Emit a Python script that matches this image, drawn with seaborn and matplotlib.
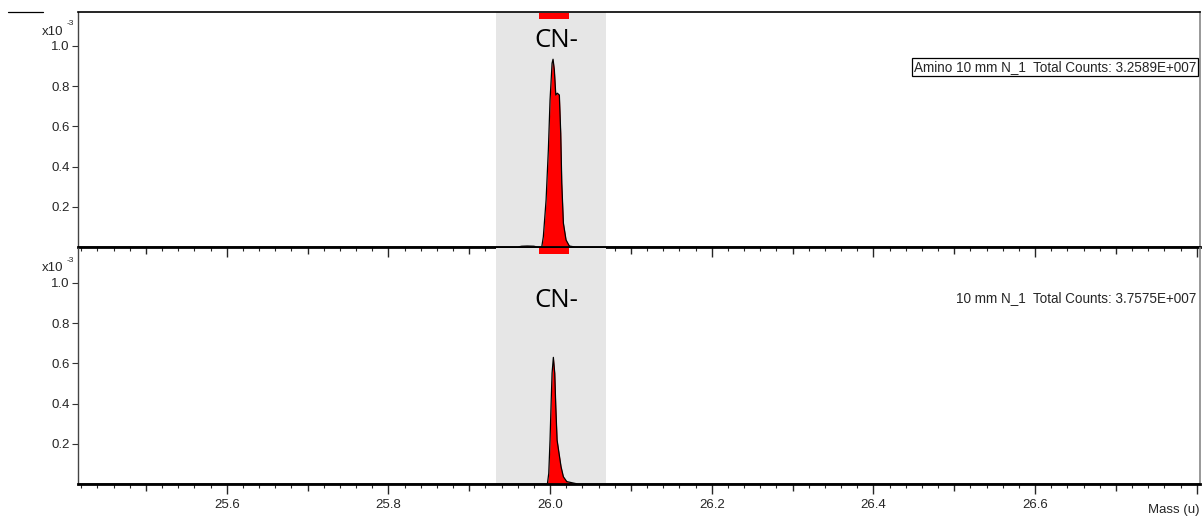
import numpy as np
import pandas as pd
import matplotlib
matplotlib.use("Agg")
import matplotlib.pyplot as plt
from matplotlib.ticker import MultipleLocator
import seaborn as sns

# spectrum 1: Amino 10 mm N_1 (intensity in units of 1e-3)
mass_amino = [25.416, 25.960, 25.965, 25.972, 25.980, 25.984, 25.9897, 25.9917, 25.9951,
              25.9979, 26.0000, 26.0025, 26.0037, 26.0053, 26.0071, 26.0090, 26.0115,
              26.0132, 26.0145, 26.0165, 26.0198, 26.0239, 26.0309, 26.804]
int_amino = [0.0, 0.0, 0.004, 0.005, 0.004, 0.0, 0.0, 0.051, 0.234,
             0.483, 0.731, 0.914, 0.934, 0.881, 0.756, 0.765, 0.756,
             0.567, 0.318, 0.119, 0.035, 0.005, 0.0, 0.0]

# spectrum 2: 10 mm N_1
mass_ref = [25.416, 25.9967, 25.9984, 26.0000, 26.0012, 26.0025, 26.0041, 26.0058,
            26.0071, 26.0087, 26.0111, 26.0136, 26.0165, 26.0207, 26.0309, 26.0346, 26.804]
int_ref = [0.0, 0.0, 0.053, 0.219, 0.385, 0.551, 0.630, 0.551,
           0.385, 0.219, 0.153, 0.086, 0.036, 0.012, 0.003, 0.0, 0.0]

labels = ["Amino 10 mm N_1  Total Counts: 3.2589E+007",
          "10 mm N_1  Total Counts: 3.7575E+007"]
peak_name = "CN-"
band = (25.9332, 26.0693)      # shaded peak window
marker = (25.9864, 26.0235)    # red peak marker
x_ticks = [25.5, 25.6, 25.7, 25.8, 25.9, 26.0, 26.1, 26.2, 26.3, 26.4, 26.5, 26.6, 26.7, 26.8]
x_ticklabels = ["", "25.6", "", "25.8", "", "26.0", "", "26.2", "", "26.4", "", "26.6", "", ""]
y_ticks = [0.2, 0.4, 0.6, 0.8, 1.0]

sns.set_style("white")
plt.rcParams["font.family"] = ["Liberation Sans", "DejaVu Sans"]

fig = plt.figure(figsize=(12.03, 5.17), dpi=100)
ax_top = fig.add_axes([0.0648, 0.5222, 0.9327, 0.4546])
ax_bot = fig.add_axes([0.0648, 0.0638, 0.9327, 0.4565])

spectra = [
    (ax_top, mass_amino, int_amino, 1.169, 0.877),
    (ax_bot, mass_ref, int_ref, 1.174, 0.778),
]

for i, (ax, m, y, ytop, cn_frac) in enumerate(spectra):
    df = pd.DataFrame({"mass": m, "intensity": y})
    ax.axvspan(*band, color="#e6e6e6", zorder=0, lw=0)
    ax.fill_between(df["mass"], df["intensity"], color="#ff0000", lw=0, zorder=2)
    sns.lineplot(data=df, x="mass", y="intensity", ax=ax, color="black", lw=0.9,
                 zorder=3, estimator=None, sort=False)
    ax.set_xlim(25.416, 26.804)
    ax.set_ylim(0, ytop)
    ax.set_xlabel("")
    ax.set_ylabel("")
    ax.set_yticks(y_ticks)
    ax.set_yticklabels([f"{v:.1f}" for v in y_ticks])
    ax.set_xticks(x_ticks)
    ax.set_xticklabels(x_ticklabels)
    ax.xaxis.set_minor_locator(MultipleLocator(0.02))
    ax.tick_params(axis="y", left=True, direction="out", length=4, width=0.8, labelsize=9.5,
                   pad=2, color="#333333")
    ax.tick_params(axis="x", which="major", bottom=True, direction="out", length=7, width=1.0,
                   labelsize=9.5, pad=4)
    ax.tick_params(axis="x", which="minor", bottom=True, direction="out", length=3, width=0.8)
    # unlabeled 0.1 ticks are a bit shorter than the labeled ones
    for tk, lab in zip(ax.xaxis.get_major_ticks(), x_ticklabels):
        if lab == "" and not np.isclose(tk.get_loc(), 26.8):
            tk.tick1line.set_markersize(5)
    for s in ["left", "top", "right", "bottom"]:
        ax.spines[s].set_visible(True)
    ax.spines["left"].set_color("#444444")
    ax.spines["left"].set_linewidth(1.0)
    ax.spines["right"].set_color("#888888")
    ax.spines["right"].set_linewidth(1.2)
    ax.spines["bottom"].set_color("black")
    ax.spines["bottom"].set_linewidth(2.0)
    ax.spines["bottom"].set_zorder(5)
    ax.spines["top"].set_color("black")
    ax.spines["top"].set_linewidth(1.2)
    ax.set_facecolor("none")

    # red marker bar at the top of each panel
    top_gap = 0.005 if i == 0 else 0.0
    ax.fill_between(marker, [ytop - 0.03 - top_gap] * 2, [ytop - top_gap] * 2, color="#ff0000",
                    lw=0, zorder=4, clip_on=False)
    ax.text(26.0083, ytop * cn_frac, peak_name, ha="center", va="center",
            fontsize=18.5, family=["Open Sans", "DejaVu Sans"], color="black")
    ax.text(-0.0318, 0.916, "x10", transform=ax.transAxes, ha="left", va="center", fontsize=9.5)
    ax.text(-0.0105, 0.949, "-3", transform=ax.transAxes, ha="left", va="center", fontsize=6)

ax_top.tick_params(axis="x", labelbottom=False)
ax_bot.spines["top"].set_visible(False)

ax_top.text(0.9965, 0.765, labels[0], transform=ax_top.transAxes, ha="right", va="center",
            fontsize=9.75, bbox=dict(boxstyle="square,pad=0.15", fc="white", ec="black", lw=0.9))
ax_bot.text(0.9965, 0.79, labels[1], transform=ax_bot.transAxes, ha="right", va="center",
            fontsize=9.75)

fig.text(0.997, 0.002, "Mass (u)", ha="right", va="bottom", fontsize=9.5)
fig.add_artist(plt.Line2D([8 / 1203, 43 / 1203], [1 - 12 / 517] * 2, color="black", lw=0.9))

fig.savefig("out.png", dpi=100)
